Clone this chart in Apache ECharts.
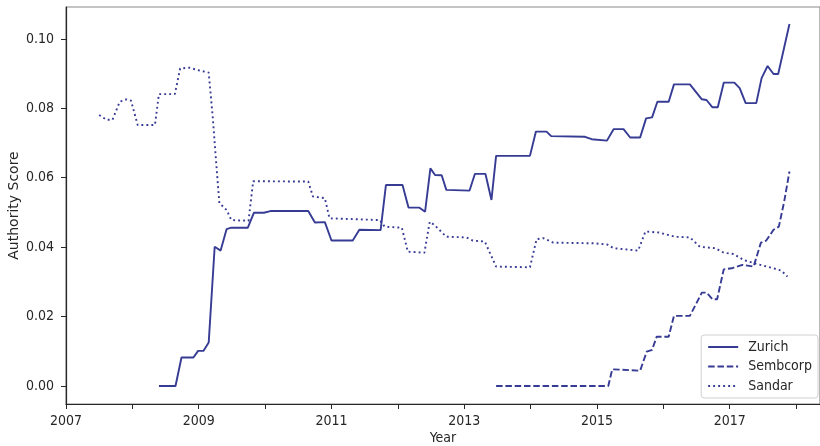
<!DOCTYPE html>
<html>
<head>
<meta charset="utf-8">
<script src="https://cdn.jsdelivr.net/npm/echarts@6/dist/echarts.min.js"></script>
<style>html,body{margin:0;padding:0;background:#fff;}#c{width:820px;height:446px;}</style>
</head>
<body>
<div id="c"></div>
<script>
const zurichYears = [2008.40,2008.65,2008.74,2008.92,2008.99,2009.07,2009.15,2009.24,2009.33,2009.42,2009.49,2009.74,2009.83,2009.98,2010.08,2010.65,2010.75,2010.90,2011.00,2011.32,2011.42,2011.74,2011.82,2012.07,2012.16,2012.32,2012.41,2012.49,2012.56,2012.66,2012.73,2013.08,2013.16,2013.32,2013.41,2013.48,2013.99,2014.08,2014.24,2014.31,2014.82,2014.92,2015.15,2015.25,2015.40,2015.50,2015.65,2015.74,2015.83,2015.91,2016.08,2016.16,2016.40,2016.58,2016.65,2016.74,2016.82,2016.91,2017.07,2017.15,2017.24,2017.40,2017.48,2017.57,2017.66,2017.73,2017.90];
const zurichScores = [0,0,0.0082,0.0082,0.0101,0.0101,0.0125,0.0401,0.0390,0.0452,0.0456,0.0456,0.0499,0.0499,0.0504,0.0504,0.0471,0.0472,0.0419,0.0419,0.0450,0.0449,0.0579,0.0579,0.0514,0.0514,0.0502,0.0627,0.0608,0.0607,0.0565,0.0563,0.0611,0.0611,0.0536,0.0663,0.0663,0.0733,0.0733,0.0720,0.0718,0.0711,0.0707,0.0740,0.0740,0.0716,0.0716,0.0771,0.0774,0.0819,0.0819,0.0869,0.0869,0.0826,0.0824,0.0803,0.0803,0.0874,0.0874,0.0858,0.0815,0.0815,0.0887,0.0922,0.0899,0.0899,0.1043];

const sembcorpYears = [2013.48,2015.17,2015.23,2015.65,2015.75,2015.83,2015.90,2016.08,2016.16,2016.40,2016.58,2016.65,2016.74,2016.81,2016.91,2017.03,2017.19,2017.36,2017.47,2017.55,2017.66,2017.74,2017.82,2017.90];
const sembcorpScores = [0,0,0.0048,0.0044,0.0099,0.0104,0.0142,0.0142,0.0202,0.0202,0.0269,0.0269,0.0250,0.0250,0.0336,0.0339,0.0349,0.0344,0.0413,0.0419,0.0450,0.0459,0.0531,0.0618];

const sandarYears = [2007.50,2007.61,2007.70,2007.81,2007.91,2007.98,2008.08,2008.34,2008.40,2008.64,2008.72,2008.86,2009.01,2009.15,2009.21,2009.26,2009.31,2009.42,2009.49,2009.75,2009.82,2010.65,2010.72,2010.90,2010.97,2011.73,2011.80,2012.06,2012.15,2012.40,2012.48,2012.55,2012.73,2013.03,2013.13,2013.31,2013.48,2013.99,2014.09,2014.19,2014.34,2014.95,2015.15,2015.25,2015.62,2015.73,2015.94,2016.17,2016.40,2016.55,2016.78,2016.91,2017.06,2017.21,2017.36,2017.46,2017.66,2017.78,2017.87];
const sandarScores = [0.0781,0.0767,0.0767,0.0819,0.0826,0.0822,0.0752,0.0752,0.0841,0.0841,0.0915,0.0917,0.0909,0.0903,0.0776,0.0651,0.0527,0.0507,0.0478,0.0476,0.0590,0.0589,0.0546,0.0541,0.0483,0.0478,0.0459,0.0456,0.0387,0.0384,0.0473,0.0464,0.0430,0.0428,0.0419,0.0416,0.0344,0.0342,0.0423,0.0426,0.0413,0.0411,0.0408,0.0397,0.0390,0.0445,0.0442,0.0430,0.0428,0.0401,0.0397,0.0384,0.0380,0.0363,0.0354,0.0349,0.0339,0.0332,0.0315];

const xTickLabels = [2007,2009,2011,2013,2015,2017];
const xTickYears = [2007,2008,2009,2010,2011,2012,2013,2014,2015,2016,2017,2018];
const yTickValues = [0,0.02,0.04,0.06,0.08,0.10];

const pair = (xs, ys) => xs.map((x, i) => [x, ys[i]]);
const COLOR = '#363b94';
const FONT = '"DejaVu Sans Condensed", "DejaVu Sans", sans-serif';
const FONT_V = '"DejaVu Sans", sans-serif';
const TXT = '#262626';

const chart = echarts.init(document.getElementById('c'), null, {renderer: 'canvas'});
chart.setOption({
  animation: false,
  textStyle: {fontFamily: FONT},
  grid: {left: 66, right: 0, top: 7, bottom: 42, show: true, borderColor: '#8a8a8a', borderWidth: 1.2,
         containLabel: false, outerBoundsMode: 'none'},
  xAxis: {
    type: 'value', min: 2007, max: 2018.36,
    name: 'Year', nameLocation: 'middle', nameGap: 27, nameMoveOverlap: false,
    nameTextStyle: {fontFamily: FONT, fontSize: 14, color: TXT},
    axisLine: {show: true, onZero: false, lineStyle: {color: '#262626', width: 1.2}},
    axisTick: {show: true, length: 5, lineStyle: {color: '#262626'}, customValues: xTickYears},
    axisLabel: {fontFamily: FONT, fontSize: 14, color: TXT, margin: 10, customValues: xTickLabels, formatter: v => String(v)},
    splitLine: {show: false}
  },
  yAxis: {
    type: 'value', min: -0.0052, max: 0.1092,
    name: 'Authority Score', nameLocation: 'middle', nameGap: 45, nameMoveOverlap: false,
    nameTextStyle: {fontFamily: FONT_V, fontSize: 14, color: TXT},
    axisLine: {show: true, onZero: false, lineStyle: {color: '#262626', width: 1.2}},
    axisTick: {show: true, length: 5, lineStyle: {color: '#262626'}, customValues: yTickValues},
    axisLabel: {fontFamily: FONT, fontSize: 14, color: TXT, margin: 12, customValues: yTickValues, formatter: v => v.toFixed(2)},
    splitLine: {show: false}
  },
  legend: {
    orient: 'vertical', right: 2, bottom: 48,
    itemWidth: 30, itemHeight: 14, itemGap: 5.5,
    padding: [5, 6, 5, 6],
    borderColor: '#d0d0d0', borderWidth: 1, borderRadius: 3,
    backgroundColor: 'rgba(255,255,255,0.8)',
    itemStyle: {opacity: 0},
    textStyle: {fontFamily: FONT, fontSize: 14, color: TXT, padding: [0, 0, 0, 5]},
    data: ['Zurich', 'Sembcorp', 'Sandar']
  },
  series: [
    {name: 'Zurich', type: 'line', data: pair(zurichYears, zurichScores), showSymbol: false, symbol: 'none',
     lineStyle: {color: COLOR, width: 1.9, type: 'solid'}, itemStyle: {color: COLOR}},
    {name: 'Sembcorp', type: 'line', data: pair(sembcorpYears, sembcorpScores), showSymbol: false, symbol: 'none',
     lineStyle: {color: COLOR, width: 1.9, type: [6.5, 2.8]}, itemStyle: {color: COLOR}},
    {name: 'Sandar', type: 'line', data: pair(sandarYears, sandarScores), showSymbol: false, symbol: 'none',
     lineStyle: {color: COLOR, width: 1.9, type: [1.9, 3.1]}, itemStyle: {color: COLOR}}
  ]
});
</script>
</body>
</html>
